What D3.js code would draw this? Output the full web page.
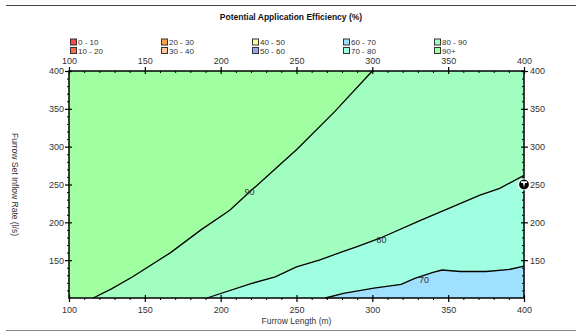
<!DOCTYPE html>
<html>
<head>
<meta charset="utf-8">
<script src="https://cdn.jsdelivr.net/npm/d3@7"></script>
<style>
  body { margin: 0; background: #fff; }
  svg { display: block; }
  text { font-family: "Liberation Sans", Arial, sans-serif; }
</style>
</head>
<body>
<svg id="chart" width="582" height="335"></svg>
<script>

// legend classes
const classLabels = [ "0 - 10", "10 - 20", "20 - 30", "30 - 40", "40 - 50",
                      "50 - 60", "60 - 70", "70 - 80", "80 - 90", "90+" ]
const classColors = [ "#ff4848", "#ff6a40", "#ffa040", "#ffc8a0", "#ffffa0",
                      "#98a8f0", "#a0e0ff", "#a0ffe0", "#a0ffc0", "#a0ffa0" ]

// contour lines, [furrow length (m), inflow rate (l/s)]
const line90 = [ [116,100], [128,112], [142,128], [167,160], [187,190], [206,216],
                 [219,240], [239,276], [250,296], [275,346], [300,400] ]
const line80 = [ [191,100], [220,119], [236,128], [250,141], [265,150], [280,161],
                 [290,168], [305,179], [331,202], [371,236], [384,245], [400,262] ]
const line70 = [ [269,100], [281,106], [301,113], [319,118], [328,126], [340,134],
                 [346,137], [358,135], [375,135], [391,138], [400,142] ]

const contourLabels = [ { text: "90", x: 219, y: 240 },
                        { text: "80", x: 306, y: 177 },
                        { text: "70", x: 334, y: 124 } ]

const xTicks = [ 100, 150, 200, 250, 300, 350, 400 ]
const yTicks = [ 150, 200, 250, 300, 350, 400 ]
const marker = [ 400, 250 ]

const svg = d3.select("#chart")

const x = d3.scaleLinear().domain([100, 400]).range([69, 524])
const y = d3.scaleLinear().domain([100, 400]).range([298, 71])

const minorTicks = d3.range(100, 401, 10).filter(d => d % 50 != 0)

// frame lines top and bottom of the page
svg.append("line").attr("x1", 6).attr("x2", 576).attr("y1", 5.5).attr("y2", 5.5)
   .attr("stroke", "#444").attr("stroke-width", 1)
svg.append("line").attr("x1", 6).attr("x2", 576).attr("y1", 330.5).attr("y2", 330.5)
   .attr("stroke", "#888").attr("stroke-width", 1)

svg.append("text")
   .attr("x", 291).attr("y", 20)
   .attr("text-anchor", "middle")
   .attr("font-size", 8.5).attr("font-weight", "bold")
   .attr("fill", "#111")
   .text("Potential Application Efficiency (%)")

// legend
var legend = svg.selectAll(".legendItem")
                .data(classLabels)
                .enter()
                .append("g")
                .attr("class", "legendItem")
                .attr("transform", (d, i) => "translate(" + (70 + Math.floor(i / 2) * 91) + "," + (38.5 + (i % 2) * 8.5) + ")")

legend.append("rect")
      .attr("x", 0.5).attr("y", 0.5)
      .attr("width", 6).attr("height", 6)
      .attr("fill", (d, i) => classColors[i])
      .attr("stroke", "#333").attr("stroke-width", 1)

legend.append("text")
      .attr("x", 8).attr("y", 6.5)
      .attr("font-size", 8).attr("fill", "#333")
      .text(d => d)

// filled bands
const line = d3.line().x(d => x(d[0])).y(d => y(d[1]))
const bands = [
  { color: classColors[6], pts: [ [100,100], [400,100], [400,400], [100,400] ] },
  { color: classColors[7], pts: line70.concat([ [400,400], [100,400], [100,100] ]) },
  { color: classColors[8], pts: line80.concat([ [400,400], [100,400], [100,100] ]) },
  { color: classColors[9], pts: line90.concat([ [100,400], [100,100] ]) }
]

svg.append("g").selectAll("path")
   .data(bands)
   .enter()
   .append("path")
   .attr("d", d => line(d.pts) + "Z")
   .attr("fill", d => d.color)

svg.append("g").selectAll("path")
   .data([ line90, line80, line70 ])
   .enter()
   .append("path")
   .attr("d", line)
   .attr("fill", "none")
   .attr("stroke", "#000")
   .attr("stroke-width", 1.3)

svg.append("g").selectAll("text")
   .data(contourLabels)
   .enter()
   .append("text")
   .attr("x", d => x(d.x)).attr("y", d => y(d.y) + 3)
   .attr("text-anchor", "middle")
   .attr("font-size", 9).attr("fill", "#333")
   .text(d => d.text)

// axes
function styleAxis(g){
  g.select(".domain").remove()
  g.selectAll("text").attr("font-size", 9).attr("fill", "#333")
   .attr("font-family", "Liberation Sans, Arial, sans-serif")
  g.selectAll(".tick line").attr("stroke", "#000").attr("stroke-width", 1.2)
}

var gBottom = svg.append("g").attr("transform", "translate(0,298)")
                 .call(d3.axisBottom(x).tickValues(xTicks).tickSize(4).tickPadding(5))
styleAxis(gBottom)
gBottom.selectAll(".tick line").attr("y1", -3)
svg.append("g").attr("transform", "translate(0,298)")
   .call(d3.axisBottom(x).tickValues(minorTicks).tickSize(2).tickFormat(""))
   .call(g => g.select(".domain").remove())

var gTop = svg.append("g").attr("transform", "translate(0,71)")
              .call(d3.axisTop(x).tickValues(xTicks).tickSize(4).tickPadding(3))
styleAxis(gTop)
gTop.selectAll(".tick line").attr("y1", 3)
svg.append("g").attr("transform", "translate(0,71)")
   .call(d3.axisBottom(x).tickValues(minorTicks).tickSize(2).tickFormat(""))
   .call(g => g.select(".domain").remove())

var gLeft = svg.append("g").attr("transform", "translate(69,0)")
               .call(d3.axisLeft(y).tickValues(yTicks).tickSize(4).tickPadding(1))
styleAxis(gLeft)
gLeft.selectAll(".tick line").attr("x1", 3)
svg.append("g").attr("transform", "translate(69,0)")
   .call(d3.axisLeft(y).tickValues(minorTicks).tickSize(2).tickFormat(""))
   .call(g => g.select(".domain").remove())

var gRight = svg.append("g").attr("transform", "translate(524,0)")
                .call(d3.axisRight(y).tickValues(yTicks).tickSize(4).tickPadding(2))
styleAxis(gRight)
gRight.selectAll(".tick line").attr("x1", -3)
svg.append("g").attr("transform", "translate(524,0)")
   .call(d3.axisLeft(y).tickValues(minorTicks).tickSize(2).tickFormat(""))
   .call(g => g.select(".domain").remove())

svg.selectAll(".tick line").attr("stroke", "#000")

svg.append("rect")
   .attr("x", x(100)).attr("y", y(400))
   .attr("width", x(400) - x(100)).attr("height", y(100) - y(400))
   .attr("fill", "none").attr("stroke", "#000").attr("stroke-width", 1.5)

// axis titles
svg.append("text")
   .attr("x", (x(100) + x(400)) / 2).attr("y", 324)
   .attr("text-anchor", "middle")
   .attr("font-size", 8.5).attr("fill", "#333")
   .text("Furrow Length (m)")

svg.append("text")
   .attr("transform", "translate(12," + (y(250)) + ") rotate(90)")
   .attr("text-anchor", "middle")
   .attr("font-size", 8.5).attr("fill", "#333")
   .text("Furrow Set Inflow Rate (l/s)")

// marker on right axis
var gMarker = svg.append("g")
                 .attr("transform", "translate(" + x(marker[0]) + "," + y(marker[1]) + ")")
gMarker.append("circle").attr("r", 5.5).attr("fill", "#000")
       .attr("stroke", "#fff").attr("stroke-width", 1.2)
gMarker.append("path").attr("d", "M-3,-3.2 L3,-3.2 L3,-1.4 L1,-1.4 L0,3 L-1,-1.4 L-3,-1.4 Z")
       .attr("fill", "#fff")

</script>
</body>
</html>
